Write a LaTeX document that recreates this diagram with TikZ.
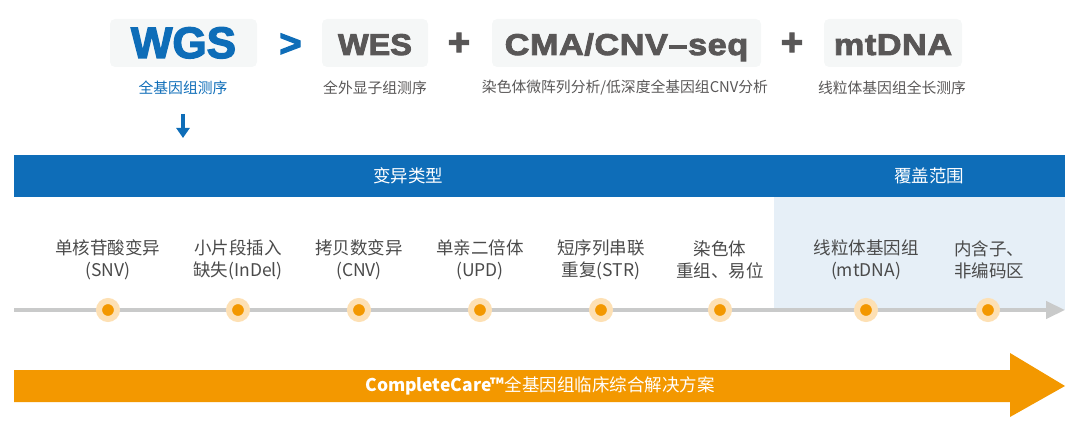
\documentclass[tikz,border=0pt]{standalone}
\usepackage{fontspec}
\setmainfont{Noto Sans CJK SC}
\newfontfamily\headfont[FakeBold=3]{Liberation Sans Bold}
\newfontfamily\wfont[FakeBold=3,FakeStretch=1.08]{Liberation Sans Bold}
\newfontfamily\cfont[FakeBold=3,FakeStretch=1.14,LetterSpace=2]{Liberation Sans Bold}
\usetikzlibrary{arrows.meta}
\definecolor{blueM}{HTML}{0E6DB8}
\definecolor{panelB}{HTML}{E6EFF7}
\definecolor{boxG}{HTML}{F5F7F7}
\definecolor{darkG}{HTML}{595757}
\definecolor{textG}{HTML}{4A4A4A}
\definecolor{lineG}{HTML}{C9CACA}
\definecolor{orangeM}{HTML}{F39800}
\definecolor{haloO}{HTML}{FDE0B4}
\tikzset{
 headbox/.style={fill=boxG,rounded corners=5pt,minimum height=48pt,inner sep=0pt,anchor=center},
 headtxt/.style={text=darkG,inner sep=0pt,anchor=base,font=\wfont\fontsize{30}{30}\selectfont},
 optxt/.style={text=#1,inner sep=0pt,font=\headfont\fontsize{38}{38}\selectfont},
 subtxt/.style={text=darkG,inner sep=0pt,font=\fontsize{14.8}{14.8}\selectfont},
 bandtxt/.style={text=white,inner sep=0pt,font=\fontsize{17.5}{17.5}\selectfont},
 itemtxt/.style={text=textG,inner sep=0pt,align=center,font=\fontsize{17.5}{22.5}\selectfont},
 dotnode/.style={circle,fill=orangeM,draw=haloO,line width=6pt,minimum size=18pt,inner sep=0pt},
}
\begin{document}
\begin{tikzpicture}[x=1pt,y=-1pt]
\useasboundingbox (0,0) rectangle (1080,422);
% head boxes
\node[headbox,minimum width=147pt] (wgs) at (183.5,43) {};
\node[headbox,minimum width=106pt] (wes) at (375,43) {};
\node[headbox,minimum width=269pt] (cma) at (626.5,43) {};
\node[headbox,minimum width=138pt] (mt) at (893,43) {};
\node[headtxt,text=blueM,font=\headfont\fontsize{44}{44}\selectfont] (wgst) at (183.5,58) {WGS};
\node[headtxt] (west) at (375,55) {WES};
\node[headtxt,font=\cfont\fontsize{30}{30}\selectfont] (cmat) at (626.5,55) {CMA/CNV–seq};
\node[headtxt,font=\cfont\fontsize{30}{30}\selectfont] (mtt) at (893,55) {mtDNA};
\node[optxt=blueM] (gt) at (290.5,45) {>};
\node[optxt=darkG] (p1) at (459,44) {+};
\node[optxt=darkG] (p2) at (792,44) {+};
\node[subtxt,text=blueM] (s1) at (183,88) {全基因组测序};
\node[subtxt] (s2) at (375,88) {全外显子组测序};
\node[subtxt] (s3) at (625,88) {染色体微阵列分析/低深度全基因组CNV分析};
\node[subtxt] (s4) at (892,88) {线粒体基因组全长测序};
\coordinate (da) at (183,114);
\coordinate (db) at (183,138);
\draw[blueM,line width=3.4pt,-{Triangle[length=10pt,width=13pt]}] (da) -- (db);
% band
\fill[blueM] (14,155) rectangle (1065,197);
\fill[panelB] (774,197) rectangle (1065,310);
\node[bandtxt] (b1) at (408,176) {变异类型};
\node[bandtxt] (b2) at (929,176) {覆盖范围};
% timeline
\coordinate (ls) at (14,310);
\coordinate (le) at (1065,310);
\draw[lineG,line width=4.5pt,-{Triangle[length=19pt,width=17pt]}] (ls) -- (le);
% items
\node[itemtxt] (i1) at (108,260) {单核苷酸变异\\(SNV)};
\node[itemtxt] (i2) at (238,260) {小片段插入\\缺失(InDel)};
\node[itemtxt] (i3) at (359,260) {拷贝数变异\\(CNV)};
\node[itemtxt] (i4) at (480,260) {单亲二倍体\\(UPD)};
\node[itemtxt] (i5) at (601,260) {短序列串联\\重复(STR)};
\node[itemtxt] (i6) at (720,260) {染色体\\重组、易位};
\node[itemtxt] (i7) at (866,260) {线粒体基因组\\(mtDNA)};
\node[itemtxt] (i8) at (989,260) {内含子、\\非编码区};
\foreach \n/\x in {d1/108,d2/238,d3/359,d4/480,d5/601,d6/720,d7/866,d8/988}
  \node[dotnode] (\n) at (\x,310) {};
% big arrow
\fill[orangeM] (14,370) -- (1010,370) -- (1010,353) -- (1065,386) -- (1010,417) -- (1010,402) -- (14,402) -- cycle;
\node[text=white,inner sep=0pt,font=\fontsize{17.5}{17.5}\selectfont] (bt) at (540,386) {\textbf{CompleteCare™}全基因组临床综合解决方案};
\end{tikzpicture}
\end{document}
